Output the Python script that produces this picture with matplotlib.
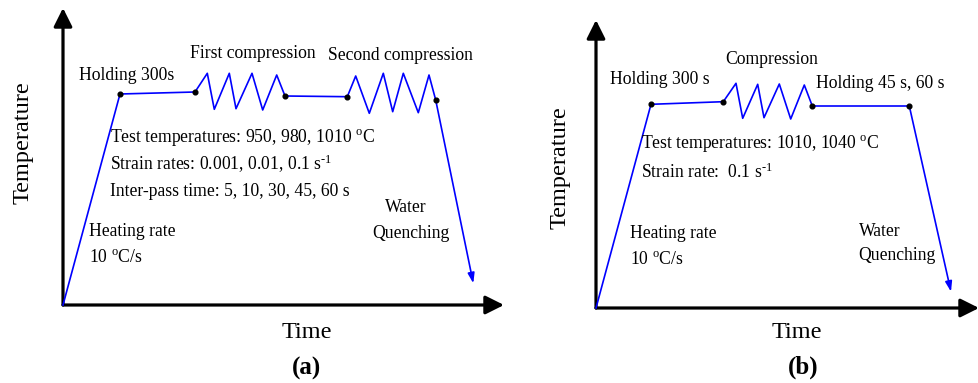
"""
Schematic of the hot compression test routes:
(a) double-hit compression, (b) single-hit compression + holding.
"""

import matplotlib
matplotlib.use("Agg")
import matplotlib.pyplot as plt


# ─── Data (time / temperature in arbitrary schematic units) ───────────────────

# (a) heating, holding, first compression, inter-pass hold, second compression
time_a = [0, 57, 132, 144.3, 151.3, 166.3, 173, 189, 199.7, 213.7, 222,
          284.3, 292.7, 306.3, 320.3, 329.7, 340.3, 355.3, 366, 372.7]
temp_a = [0, 211, 213, 231.7, 195.7, 231.7, 196.3, 231.7, 195, 230, 209,
          208.3, 229, 191.7, 231.7, 193.3, 231.7, 192.3, 230, 205]
dots_a = [1, 2, 10, 11, 19]          # indices of the black marker points
quench_a = (410.3, 21.7)             # end of water quenching

# (b) heating, holding, compression, holding 45 s / 60 s
time_b = [0, 55, 127.3, 140, 146.7, 161.7, 168, 183.3, 194.7, 208.3, 216.3, 313.3]
temp_b = [0, 203.7, 206.3, 224.7, 189.7, 223.7, 190.3, 224, 189, 223, 202, 202]
dots_b = [1, 2, 10, 11]
quench_b = (355, 16.3)

# axis extents (length of the arrows) in the same units
extent_a = (441, 297)
extent_b = (383, 288)

FONT = "Liberation Serif"
BLUE = "#0000ff"

plt.rcParams["font.family"] = FONT
plt.rcParams["mathtext.fontset"] = "custom"
plt.rcParams["mathtext.rm"] = FONT
plt.rcParams["mathtext.it"] = FONT + ":italic"

W, H = 979, 383
fig = plt.figure(figsize=(W / 100, H / 100), dpi=100)


def make_axes(x0, y0, extent):
    """Axes whose origin sits at pixel (x0, y0) and whose units are pixels."""
    w, h = extent
    ax = fig.add_axes([x0 / W, (H - y0) / H, w / W, h / H])
    ax.set_xlim(0, w)
    ax.set_ylim(0, h)
    ax.axis("off")
    arrow = dict(arrowstyle="-|>", lw=2.3, color="black",
                 mutation_scale=28, shrinkA=0, shrinkB=0)
    ax.annotate("", xy=(w, 0), xytext=(0, 0), arrowprops=arrow,
                annotation_clip=False)
    ax.annotate("", xy=(0, h), xytext=(0, 0), arrowprops=arrow,
                annotation_clip=False)
    return ax


def draw_route(ax, t, T, dots, quench):
    ax.plot(t, T, color=BLUE, lw=1.2, clip_on=False, zorder=3)
    ax.plot([t[i] for i in dots], [T[i] for i in dots], "o", color="black",
            ms=3.4, clip_on=False, zorder=4)
    ax.annotate("", xy=quench, xytext=(t[-1], T[-1]),
                arrowprops=dict(arrowstyle="-|>,head_length=0.6,head_width=0.2",
                                lw=1.2, color=BLUE,
                                mutation_scale=10, shrinkA=0, shrinkB=0),
                annotation_clip=False, zorder=3)


def label(ax, x, y, s, size=12.7, **kw):
    kw.setdefault("ha", "left")
    kw.setdefault("va", "center")
    ax.text(x, y, s, fontsize=size, clip_on=False, **kw)


deg = r"$^{\mathrm{o}}$"
inv = "$^{\u2010\\mathrm{1}}$"

# ─── Panel (a) ────────────────────────────────────────────────────────────────
ax_a = make_axes(63, 305, extent_a)
draw_route(ax_a, time_a, temp_a, dots_a, quench_a)

label(ax_a, 16, 230, "Holding 300s")
label(ax_a, 127, 252, "First compression")
label(ax_a, 265, 249, "Second compression")
label(ax_a, 47, 168, f"Test temperatures: 950, 980, 1010 {deg}C")
label(ax_a, 47, 141, f"Strain rates: 0.001, 0.01, 0.1 s{inv}")
label(ax_a, 47, 114, "Inter-pass time: 5, 10, 30, 45, 60 s")
label(ax_a, 322, 98, "Water")
label(ax_a, 309, 72, "Quenching")
label(ax_a, 26, 74, "Heating rate")
label(ax_a, 26, 47, f"10 {deg}C/s")
label(ax_a, -40, 162, "Temperature", size=17.5, ha="center", rotation=90)
label(ax_a, 244, -27, "Time", size=17.5, ha="center")
label(ax_a, 244, -63, "(a)", size=18, ha="center", fontweight="bold")

# ─── Panel (b) ────────────────────────────────────────────────────────────────
ax_b = make_axes(596, 308, extent_b)
draw_route(ax_b, time_b, temp_b, dots_b, quench_b)

label(ax_b, 14, 228, "Holding 300 s")
label(ax_b, 129, 248, "Compression")
label(ax_b, 220, 225, "Holding 45 s, 60 s")
label(ax_b, 45, 164, f"Test temperatures: 1010, 1040 {deg}C")
label(ax_b, 45, 136, f"Strain rate:  0.1 s{inv}")
label(ax_b, 34, 75, "Heating rate")
label(ax_b, 34, 48, f"10 {deg}C/s")
label(ax_b, 263, 77, "Water")
label(ax_b, 262, 52, "Quenching")
label(ax_b, -36, 140, "Temperature", size=17.5, ha="center", rotation=90)
label(ax_b, 201, -24, "Time", size=17.5, ha="center")
label(ax_b, 207, -59, "(b)", size=18, ha="center", fontweight="bold")

fig.savefig("out.png", dpi=100, facecolor="white")
